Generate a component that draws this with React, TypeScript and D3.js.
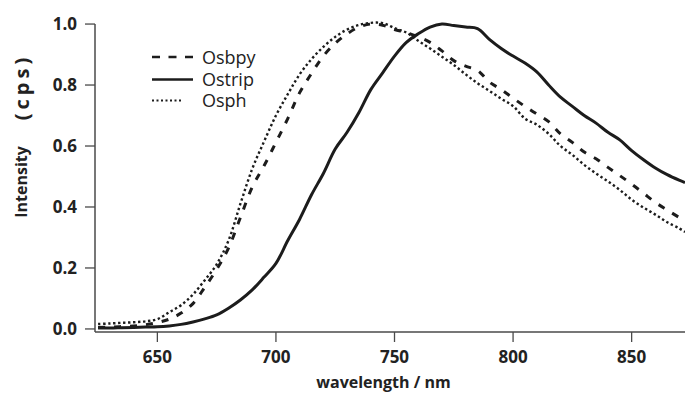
import React from "react";
import * as d3 from "d3";

const wavelengths = [625, 630, 635, 640, 645, 650, 655, 660, 665, 670, 675, 680, 685, 690, 695, 700, 705, 710, 715, 720, 725, 730, 735, 740, 745, 750, 755, 760, 765, 770, 775, 780, 785, 790, 795, 800, 805, 810, 815, 820, 825, 830, 835, 840, 845, 850, 855, 860, 865, 870, 872.5];

const osbpy = [0.005, 0.006, 0.008, 0.01, 0.014, 0.021, 0.032, 0.052, 0.083, 0.137, 0.195, 0.265, 0.365, 0.465, 0.535, 0.612, 0.69, 0.775, 0.838, 0.895, 0.937, 0.968, 0.99, 1.0, 0.996, 0.982, 0.972, 0.958, 0.94, 0.912, 0.88, 0.862, 0.848, 0.81, 0.785, 0.757, 0.73, 0.705, 0.68, 0.64, 0.612, 0.58, 0.558, 0.53, 0.503, 0.475, 0.445, 0.415, 0.39, 0.366, 0.355];

const ostrip = [0.003, 0.003, 0.004, 0.005, 0.006, 0.007, 0.01, 0.015, 0.023, 0.033, 0.046, 0.068, 0.095, 0.128, 0.17, 0.215, 0.29, 0.36, 0.44, 0.51, 0.59, 0.645, 0.71, 0.785, 0.84, 0.895, 0.94, 0.968, 0.99, 1.0, 0.995, 0.99, 0.985, 0.95, 0.92, 0.895, 0.872, 0.843, 0.8, 0.76, 0.73, 0.7, 0.675, 0.645, 0.62, 0.585, 0.555, 0.528, 0.506, 0.488, 0.48];

const osph = [0.016, 0.018, 0.02, 0.022, 0.025, 0.032, 0.055, 0.078, 0.113, 0.16, 0.212, 0.29, 0.41, 0.525, 0.615, 0.7, 0.77, 0.835, 0.885, 0.925, 0.958, 0.982, 0.997, 1.004, 1.003, 0.987, 0.972, 0.945, 0.92, 0.893, 0.866, 0.835, 0.806, 0.781, 0.755, 0.731, 0.69, 0.67, 0.64, 0.6, 0.571, 0.538, 0.51, 0.484, 0.456, 0.424, 0.398, 0.375, 0.35, 0.33, 0.318];

const seriesNames = ["Osbpy", "Ostrip", "Osph"];
const xTicks = [650, 700, 750, 800, 850];
const yTicks = [0.0, 0.2, 0.4, 0.6, 0.8, 1.0];

const W = 685;
const H = 394;
const left = 95;
const right = 685;
const top = 24.05;
const bottom = 332;

const ink = "#1c1c1c";
const axisColor = "#4a4a4a";
const font = "'Open Sans', 'DejaVu Sans', sans-serif";

export default function App() {
  const x = d3.scaleLinear().domain([623.7, 872.5]).range([left, right]);
  const y = d3.scaleLinear().domain([-0.01, 1.0]).range([bottom, top]);

  const mk = (vals: number[]) =>
    d3
      .line<number>()
      .x((_, i) => x(wavelengths[i]))
      .y((v) => y(v))
      .curve(d3.curveCatmullRom.alpha(0.5))(vals) || "";

  const styles = [
    { d: mk(osbpy), width: 3, dash: "7,9", cap: "butt" },
    { d: mk(ostrip), width: 3, dash: "none", cap: "butt" },
    { d: mk(osph), width: 2.4, dash: "2.4,2.6", cap: "butt" },
  ];

  const legendRows = [57, 79.5, 100.5];
  const legendEnds = [193, 193, 182];

  return (
    <svg
      width={W}
      height={H}
      style={{ position: "absolute", left: 0, top: 0, background: "#fff" }}
      fontFamily={font}
    >
      <rect x={0} y={0} width={W} height={H} fill="#fff" />
      {/* axes */}
      <line x1={left} x2={left} y1={y(1.0)} y2={bottom} stroke={axisColor} strokeWidth={1.5} />
      <line x1={left} x2={right} y1={bottom} y2={bottom} stroke={axisColor} strokeWidth={1.5} />
      {yTicks.map((t) => (
        <g key={"y" + t}>
          <line x1={left - 10} x2={left} y1={y(t)} y2={y(t)} stroke={axisColor} strokeWidth={1.3} />
          <text
            x={77}
            y={y(t) + 6}
            textAnchor="end"
            fontSize={17}
            fontWeight={700}
            fill="#222"
          >
            {t.toFixed(1)}
          </text>
        </g>
      ))}
      {xTicks.map((t) => (
        <g key={"x" + t}>
          <line x1={x(t)} x2={x(t)} y1={bottom} y2={bottom + 10} stroke={axisColor} strokeWidth={1.3} />
          <text
            x={x(t)}
            y={363}
            textAnchor="middle"
            fontSize={17}
            fontWeight={700}
            fill="#222"
          >
            {t}
          </text>
        </g>
      ))}
      <text x={383.5} y={388} textAnchor="middle" fontSize={16} fontWeight={700} fill="#222">
        wavelength / nm
      </text>
      <text
        transform="translate(27,182) rotate(-90)"
        textAnchor="middle"
        fontSize={16}
        fontWeight={700}
        fill="#222"
      >
        Intensity
      </text>
      <text
        transform="translate(29,87) rotate(-90)"
        textAnchor="middle"
        fontSize={20}
        fontWeight={700}
        letterSpacing={4}
        fill="#222"
      >
        (cps)
      </text>

      {/* curves */}
      {styles.map((s, i) => (
        <path
          key={"c" + i}
          d={s.d}
          fill="none"
          stroke={ink}
          strokeWidth={s.width}
          strokeDasharray={s.dash}
          strokeLinecap={s.cap as any}
          strokeLinejoin="round"
        />
      ))}

      {/* legend */}
      {seriesNames.map((name, i) => (
        <g key={"l" + name}>
          <line
            x1={152}
            x2={legendEnds[i]}
            y1={legendRows[i]}
            y2={legendRows[i]}
            stroke={ink}
            strokeWidth={i === 2 ? 2 : 2.6}
            strokeDasharray={i === 0 ? "8,8.5" : i === 2 ? "2,2.5" : "none"}
          />
          <text x={202} y={legendRows[i] + 6.5} fontSize={18} fill="#222">
            {name}
          </text>
        </g>
      ))}
    </svg>
  );
}
